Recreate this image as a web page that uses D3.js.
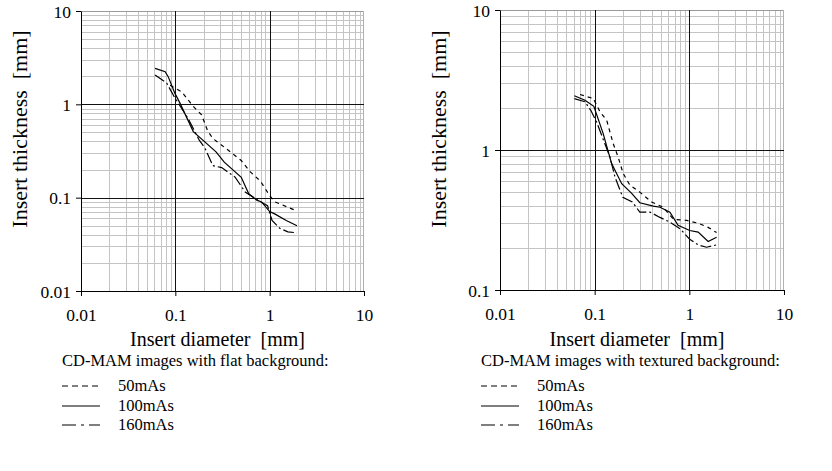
<!DOCTYPE html>
<html>
<head>
<meta charset="utf-8">
<script src="https://cdn.jsdelivr.net/npm/d3@7"></script>
<style>
  body { margin: 0; background: #fff; }
  svg text { font-family: "Liberation Serif", "Times New Roman", serif; fill: #000; white-space: pre; }
</style>
</head>
<body>
<div id="chart"></div>
<script>
// Tick values
var xTicks = [0.01, 0.1, 1, 10];
var flatYTicks = [0.01, 0.1, 1, 10];
var texturedYTicks = [0.1, 1, 10];

// Series labels
var seriesNames = ["50mAs", "100mAs", "160mAs"];

// Flat background (left panel)
var flatDiam50 = [0.088, 0.117, 0.155, 0.19, 0.22, 0.25, 0.34, 0.5, 0.62, 0.8, 1.0, 1.14, 1.95];
var flatThick50 = [1.6, 1.36, 0.95, 0.77, 0.52, 0.43, 0.34, 0.25, 0.19, 0.15, 0.105, 0.09, 0.072];
var flatDiam100 = [0.061, 0.078, 0.084, 0.099, 0.112, 0.155, 0.27, 0.33, 0.5, 0.6, 0.73, 0.82, 1.0, 1.13, 1.5, 1.95];
var flatThick100 = [2.43, 2.24, 1.98, 1.31, 1.03, 0.51, 0.31, 0.24, 0.165, 0.11, 0.094, 0.09, 0.071, 0.067, 0.057, 0.05];
var flatDiam160 = [0.061, 0.081, 0.099, 0.136, 0.18, 0.206, 0.25, 0.31, 0.43, 0.55, 0.75, 0.95, 1.06, 1.28, 1.56, 1.95];
var flatThick160 = [2.06, 1.69, 1.17, 0.71, 0.41, 0.34, 0.22, 0.21, 0.166, 0.115, 0.094, 0.082, 0.057, 0.047, 0.043, 0.042];

// Textured background (right panel)
var texDiam50 = [0.07, 0.097, 0.114, 0.134, 0.157, 0.177, 0.2, 0.236, 0.3, 0.4, 0.53, 0.68, 0.94, 1.24, 1.58, 1.94];
var texThick50 = [2.49, 2.33, 1.87, 1.63, 1.11, 0.89, 0.68, 0.56, 0.5, 0.425, 0.39, 0.32, 0.314, 0.3, 0.28, 0.257];
var texDiam100 = [0.061, 0.079, 0.098, 0.123, 0.151, 0.193, 0.246, 0.3, 0.416, 0.49, 0.624, 0.76, 1.01, 1.24, 1.58, 1.94];
var texThick100 = [2.44, 2.27, 2.05, 1.31, 0.8, 0.575, 0.49, 0.42, 0.397, 0.39, 0.36, 0.29, 0.266, 0.259, 0.222, 0.238];
var texDiam160 = [0.061, 0.079, 0.091, 0.105, 0.145, 0.164, 0.198, 0.25, 0.3, 0.384, 0.49, 0.624, 0.8, 1.01, 1.24, 1.52, 1.94];
var texThick160 = [2.33, 2.21, 1.92, 1.58, 0.89, 0.64, 0.46, 0.425, 0.36, 0.36, 0.33, 0.305, 0.274, 0.23, 0.21, 0.202, 0.21];

// Line styles for 50 / 100 / 160 mAs
var dashStyles = ["4,4", null, "11,3,2,3"];
var legendDash = ["6,4", null, "14,5,3,5"];

var fontFamily = "Liberation Serif, Times New Roman, serif";

var svgWidth = 832;
var svgHeight = 471;

var svg = d3.select("#chart")
  .append("svg")
  .attr("width", svgWidth)
  .attr("height", svgHeight)
  .attr("font-family", fontFamily);

svg.append("rect")
  .attr("width", svgWidth)
  .attr("height", svgHeight)
  .attr("fill", "#fff");

function zip(xs, ys) {
  return xs.map((d, i) => [d, ys[i]]);
}

var panels = [
  {
    left: 81, right: 364, top: 11, bottom: 291,
    yTicks: flatYTicks,
    series: [zip(flatDiam50, flatThick50), zip(flatDiam100, flatThick100), zip(flatDiam160, flatThick160)],
    yTitleX: 19,
    legendX: 62,
    legendTitle: "CD-MAM images with flat background:"
  },
  {
    left: 500, right: 784, top: 10, bottom: 290,
    yTicks: texturedYTicks,
    series: [zip(texDiam50, texThick50), zip(texDiam100, texThick100), zip(texDiam160, texThick160)],
    yTitleX: 438,
    legendX: 481,
    legendTitle: "CD-MAM images with textured background:"
  }
];

function decadeMinors(lo, hi) {
  var out = [];
  for (var e = Math.round(Math.log10(lo)); e < Math.round(Math.log10(hi)); e++) {
    for (var k = 2; k <= 9; k++) out.push(k * Math.pow(10, e));
  }
  return out;
}

panels.forEach(function(p) {
  var g = svg.append("g");
  var yMin = p.yTicks[0], yMax = p.yTicks[p.yTicks.length - 1];

  var x = d3.scaleLog().domain([0.01, 10]).range([p.left, p.right]);
  var y = d3.scaleLog().domain([yMin, yMax]).range([p.bottom, p.top]);

  // minor grid
  g.selectAll(".vminor").data(decadeMinors(0.01, 10)).enter().append("line")
    .attr("x1", d => Math.round(x(d)) + 0.5).attr("x2", d => Math.round(x(d)) + 0.5)
    .attr("y1", p.top).attr("y2", p.bottom)
    .attr("stroke", "#c4c4c4").attr("stroke-width", 1);
  g.selectAll(".hminor").data(decadeMinors(yMin, yMax)).enter().append("line")
    .attr("y1", d => Math.round(y(d)) + 0.5).attr("y2", d => Math.round(y(d)) + 0.5)
    .attr("x1", p.left).attr("x2", p.right)
    .attr("stroke", "#c4c4c4").attr("stroke-width", 1);

  // border (top / right)
  g.append("line")
    .attr("x1", p.left).attr("x2", p.right)
    .attr("y1", y(yMax) + 0.5).attr("y2", y(yMax) + 0.5)
    .attr("stroke", "#9a9a9a");
  g.append("line")
    .attr("x1", x(10) - 0.5).attr("x2", x(10) - 0.5)
    .attr("y1", p.top).attr("y2", p.bottom)
    .attr("stroke", "#b0b0b0");

  // major grid
  g.selectAll(".vmajor").data(xTicks.slice(1, -1)).enter().append("line")
    .attr("x1", d => Math.round(x(d)) + 0.5).attr("x2", d => Math.round(x(d)) + 0.5)
    .attr("y1", p.top).attr("y2", p.bottom)
    .attr("stroke", "#111");
  g.selectAll(".hmajor").data(p.yTicks.slice(1, -1)).enter().append("line")
    .attr("y1", d => Math.round(y(d)) + 0.5).attr("y2", d => Math.round(y(d)) + 0.5)
    .attr("x1", p.left).attr("x2", p.right)
    .attr("stroke", "#111");

  // axes
  var bottomAxis = d3.axisBottom(x).tickValues(xTicks).tickFormat(d => String(d))
    .tickSize(5).tickSizeOuter(0).tickPadding(13);
  var leftAxis = d3.axisLeft(y).tickValues(p.yTicks).tickFormat(d => String(d))
    .tickSize(5).tickSizeOuter(0).tickPadding(5);

  var xa = g.append("g")
    .attr("transform", `translate(0, ${p.bottom})`)
    .call(bottomAxis);
  var ya = g.append("g")
    .attr("transform", `translate(${p.left}, 0)`)
    .call(leftAxis);
  [xa, ya].forEach(function(a) {
    a.attr("font-family", fontFamily).attr("font-size", 17.5);
    a.select(".domain").attr("stroke", "#000");
    a.selectAll(".tick line").attr("stroke", "#000");
    a.selectAll("text").attr("fill", "#000");
  });
  ya.selectAll("text").attr("dy", "0.35em");

  // series lines
  var line = d3.line().x(d => x(d[0])).y(d => y(d[1]));
  p.series.forEach(function(s, i) {
    g.append("path")
      .attr("d", line(s))
      .attr("fill", "none")
      .attr("stroke", "#000")
      .attr("stroke-width", 1.2)
      .attr("stroke-dasharray", dashStyles[i]);
  });

  // axis titles
  g.append("text")
    .attr("x", (p.left + p.right) / 2 - 5)
    .attr("y", 346)
    .attr("text-anchor", "middle")
    .attr("font-size", 20)
    .text("Insert diameter  [mm]");

  g.append("text")
    .attr("transform", `translate(${p.yTitleX}, 129) rotate(-90)`)
    .attr("text-anchor", "middle")
    .attr("dy", "0.35em")
    .attr("font-size", 22)
    .text("Insert thickness  [mm]");

  // legend
  g.append("text")
    .attr("x", p.legendX)
    .attr("y", 366)
    .attr("font-size", 16.5)
    .text(p.legendTitle);

  var legendRows = [386, 406, 425];
  seriesNames.forEach(function(name, i) {
    g.append("line")
      .attr("x1", p.legendX).attr("x2", p.legendX + 38)
      .attr("y1", legendRows[i]).attr("y2", legendRows[i])
      .attr("stroke", "#000")
      .attr("stroke-width", 1.2)
      .attr("stroke-dasharray", legendDash[i]);
    g.append("text")
      .attr("x", p.legendX + 56)
      .attr("y", legendRows[i] + 5)
      .attr("font-size", 16.5)
      .text(name);
  });
});
</script>
</body>
</html>
